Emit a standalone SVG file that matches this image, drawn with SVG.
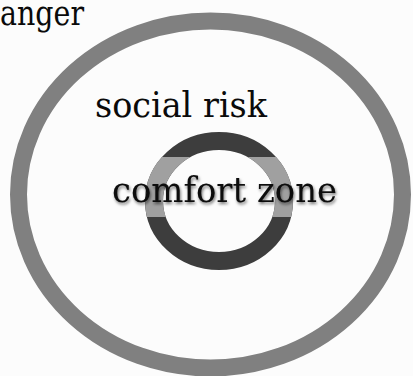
<svg xmlns="http://www.w3.org/2000/svg" width="413" height="376" viewBox="0 0 413 376">
  <style>
    .ring { fill: none; }
    .lbl { fill: #0a0a0a; font-family: "DejaVu Serif", serif; font-size: 36px; }
  </style>
  <defs>
    <clipPath id="band"><rect x="0" y="157" width="413" height="60"/></clipPath>
    <filter id="shadow" x="-10%" y="-30%" width="120%" height="160%">
      <feGaussianBlur in="SourceAlpha" stdDeviation="1.5"/>
      <feOffset dx="1" dy="2" result="b"/>
      <feFlood flood-color="#000" flood-opacity="0.55"/>
      <feComposite in2="b" operator="in"/>
      <feMerge><feMergeNode/><feMergeNode in="SourceGraphic"/></feMerge>
    </filter>
  </defs>
  <rect width="413" height="376" fill="#fcfcfc"/>
  <g id="danger">
    <ellipse class="ring" cx="210.5" cy="194.5" rx="192" ry="173.5" stroke="#808080" stroke-width="17"/>
    <text class="lbl" x="0" y="25" textLength="84" lengthAdjust="spacingAndGlyphs">anger</text>
  </g>
  <g id="social-risk">
    <text class="lbl" x="95" y="117" textLength="172" lengthAdjust="spacingAndGlyphs">social risk</text>
  </g>
  <g id="comfort-zone">
    <ellipse class="ring" cx="219" cy="201" rx="65" ry="60" stroke="#3d3d3d" stroke-width="18"/>
    <ellipse class="ring" cx="219" cy="201" rx="65" ry="60" stroke="#a0a0a0" stroke-width="18" clip-path="url(#band)"/>
    <text class="lbl" x="112" y="202" textLength="225" lengthAdjust="spacingAndGlyphs" filter="url(#shadow)">comfort zone</text>
  </g>
  <g id="connectors"/>
</svg>
